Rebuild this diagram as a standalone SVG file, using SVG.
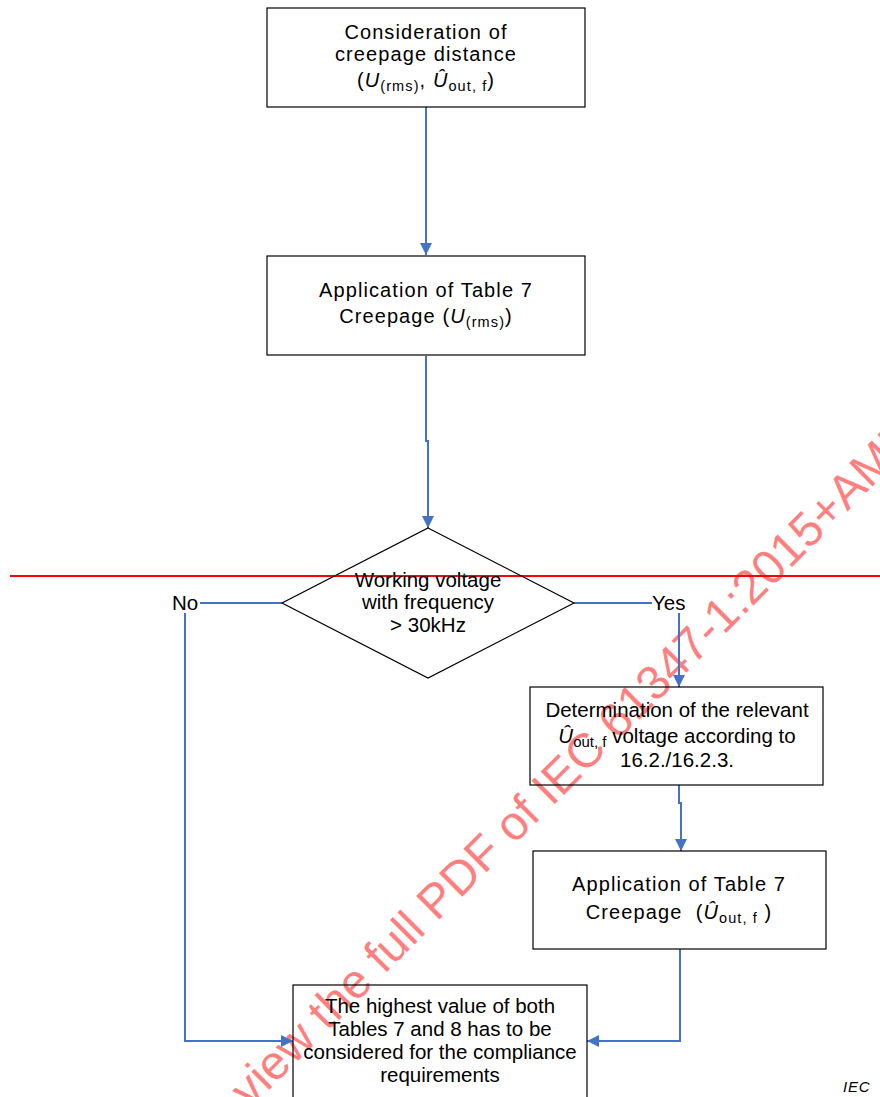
<svg xmlns="http://www.w3.org/2000/svg" width="880" height="1097" viewBox="0 0 880 1097">
<style>
.box{fill:none;stroke:#000;stroke-width:1.2}
.t19{font-family:"Liberation Sans",Arial,sans-serif;font-size:20px;letter-spacing:1.1px;text-anchor:middle;fill:#000}
.t20{font-family:"Liberation Sans",Arial,sans-serif;font-size:20.5px;text-anchor:middle;fill:#000}
.lbl{font-family:"Liberation Sans",Arial,sans-serif;font-size:20.5px;fill:#000}
.it{font-style:italic}
.conn{fill:none;stroke:#4472C4;stroke-width:2}
.wm{font-family:"Liberation Sans",Arial,sans-serif;font-size:48px;fill:#FF0000;fill-opacity:0.5}
</style>
<defs>
<marker id="ah" markerUnits="userSpaceOnUse" markerWidth="12" markerHeight="12" refX="12" refY="6" orient="auto">
<path d="M0,0 L12,6 L0,12 z" fill="#4472C4"/>
</marker>
</defs>
<rect width="880" height="1097" fill="#fff"/>
<g id="watermark">
<text class="wm" transform="translate(250,1109) rotate(-45)">view the full PDF of IEC 61347-1:2015+AMD</text>
</g>
<line id="red-line" x1="10" y1="576" x2="880" y2="576" stroke="#FF0000" stroke-width="2"/>
<g id="connectors">
<path class="conn" d="M426,107 V255" marker-end="url(#ah)"/>
<path class="conn" d="M426,356 V441 H428 V528" marker-end="url(#ah)"/>
<path class="conn" d="M282,603 H200"/>
<path class="conn" d="M185,613 V1041 H293" marker-end="url(#ah)"/>
<path class="conn" d="M574,603 H652"/>
<path class="conn" d="M679,613 V687" marker-end="url(#ah)"/>
<path class="conn" d="M679,785 V803 H681 V851" marker-end="url(#ah)"/>
<path class="conn" d="M680,949 V1041 H587" marker-end="url(#ah)"/>
</g>
<g id="n1">
<rect class="box" x="267" y="8" width="318" height="99"/>
<text class="t19" x="426" y="39">Consideration of</text>
<text class="t19" x="426" y="61">creepage distance</text>
<text class="t19" x="426" y="87">(<tspan class="it">U</tspan><tspan dy="4" font-size="14.5">(rms)</tspan><tspan dy="-4">, </tspan><tspan class="it">Û</tspan><tspan dy="4" font-size="14.5">out, f</tspan><tspan dy="-4">)</tspan></text>
</g>
<g id="n2">
<rect class="box" x="267" y="256" width="318" height="99"/>
<text class="t19" x="426" y="297">Application of Table 7</text>
<text class="t19" x="426" y="323">Creepage (<tspan class="it">U</tspan><tspan dy="4" font-size="14.5">(rms)</tspan><tspan dy="-4">)</tspan></text>
</g>
<g id="n3">
<polygon class="box" points="428,528 574,603 428,678 282,603"/>
<text class="t20" x="428" y="587">Working voltage</text>
<text class="t20" x="428" y="609">with frequency</text>
<text class="t20" x="428" y="632">&gt; 30kHz</text>
</g>
<g id="lblNo"><text class="lbl" x="172" y="610">No</text></g>
<g id="lblYes"><text class="lbl" x="652" y="610">Yes</text></g>
<g id="n4">
<rect class="box" x="530" y="687" width="293" height="98"/>
<text class="t20" x="677" y="717">Determination of the relevant</text>
<text class="t20" x="677" y="743"><tspan class="it">Û</tspan><tspan dy="4" font-size="15">out, f</tspan><tspan dy="-4"> voltage according to</tspan></text>
<text class="t20" x="677" y="767">16.2./16.2.3.</text>
</g>
<g id="n5">
<rect class="box" x="533" y="851" width="293" height="98"/>
<text class="t19" x="679" y="891">Application of Table 7</text>
<text class="t19" x="679" y="919" style="white-space:pre">Creepage  (<tspan class="it">Û</tspan><tspan dy="4" font-size="14.5">out, f</tspan><tspan dy="-4"> )</tspan></text>
</g>
<g id="n6">
<rect class="box" x="293" y="985" width="294" height="130"/>
<text class="t20" x="440" y="1013">The highest value of both</text>
<text class="t20" x="440" y="1036">Tables 7 and 8 has to be</text>
<text class="t20" x="440" y="1059">considered for the compliance</text>
<text class="t20" x="440" y="1082">requirements</text>
</g>
<g id="iec"><text x="843" y="1092" font-family="Liberation Sans,Arial,sans-serif" font-size="15" font-style="italic" letter-spacing="0.8">IEC</text></g>
</svg>
